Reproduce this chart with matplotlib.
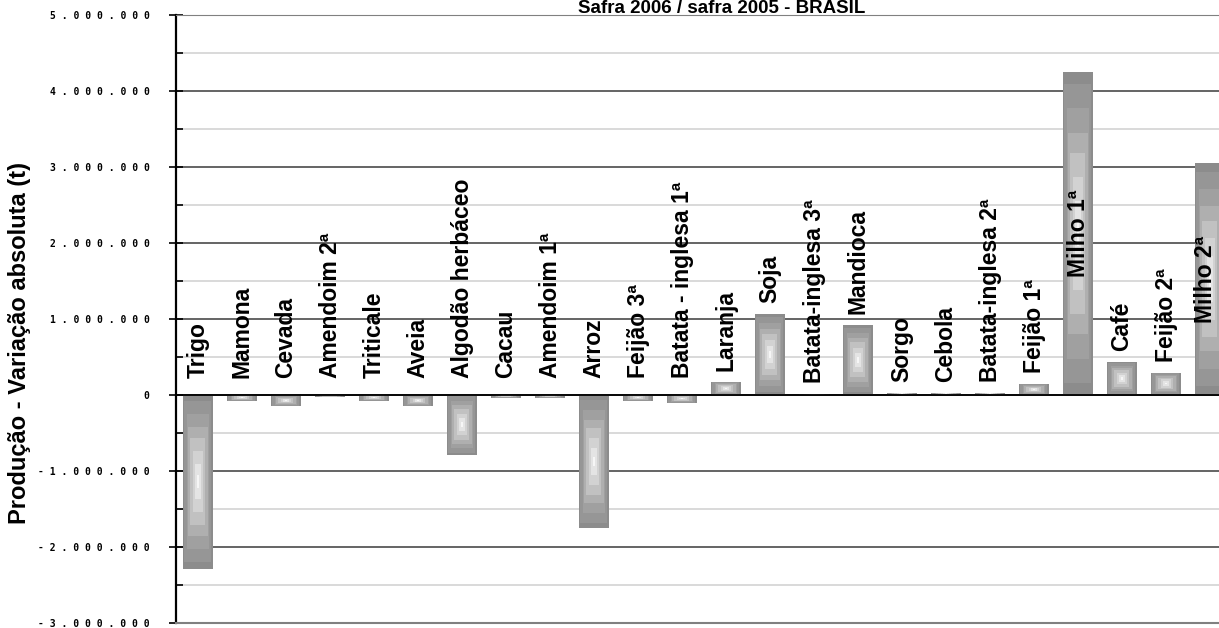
import numpy as np
import matplotlib
matplotlib.use('Agg')
import matplotlib.pyplot as plt
from matplotlib.colors import LinearSegmentedColormap
from matplotlib.ticker import MultipleLocator, FuncFormatter

# dados - variacao absoluta da producao (t), safra 2006 / safra 2005
culturas = ['Trigo', 'Mamona', 'Cevada', 'Amendoim 2ª', 'Triticale', 'Aveia',
            'Algodão herbáceo', 'Cacau', 'Amendoim 1ª', 'Arroz', 'Feijão 3ª',
            'Batata - inglesa 1ª', 'Laranja', 'Soja', 'Batata-inglesa 3ª',
            'Mandioca', 'Sorgo', 'Cebola', 'Batata-inglesa 2ª', 'Feijão 1ª',
            'Milho 1ª', 'Café', 'Feijão 2ª', 'Milho 2ª']
variacao = [-2290000, -80000, -140000, -20000, -80000, -140000,
            -790000, -40000, -40000, -1750000, -80000,
            -110000, 170000, 1060000, 10000,
            920000, 30000, 30000, 30000, 140000,
            4250000, 430000, 290000, 3050000]
y_ticks = [-3000000, -2000000, -1000000, 0, 1000000, 2000000, 3000000, 4000000, 5000000]

plt.rcParams['font.family'] = ['Liberation Sans', 'DejaVu Sans']

fig = plt.figure(figsize=(12.19, 6.28), dpi=100)
ax = fig.add_axes([176/1219, 5/628, 1043/1219, 608/628])

xs = np.arange(len(culturas))
bars = ax.bar(xs, variacao, width=0.68, color='none', edgecolor='none', zorder=2)

# gradiente "do centro" parecido com o do Excel
u = np.linspace(-1, 1, 40)
v = np.linspace(-1, 1, 80)
d = np.maximum(np.abs(u)[None, :], np.abs(v)[:, None])
d = np.round(d * 7) / 7
cmap = LinearSegmentedColormap.from_list('barra', ['#f6f6f6', '#cdcdcd', '#a4a4a4', '#8c8c8c'])
for p in bars:
    x0, y0 = p.get_xy()
    im = ax.imshow(d, cmap=cmap, vmin=0, vmax=1, aspect='auto', interpolation='nearest',
                   extent=[x0, x0 + p.get_width(), y0, y0 + p.get_height()], zorder=2)
    im.set_clip_path(p)

# rotulos das culturas
for i, (nome, val) in enumerate(zip(culturas, variacao)):
    dx = -3 if i == len(culturas) - 1 else 0   # o ultimo fica colado na borda
    if val > 2000000:
        ax.annotate(nome, (i, val / 2), xytext=(dx, 0), textcoords='offset points',
                    rotation=90, ha='center', va='center', fontsize=16.5,
                    fontweight='bold', zorder=4)
    else:
        off = 8 if val > 0 else 12
        ax.annotate(nome, (i, max(val, 0)), xytext=(dx, off), textcoords='offset points',
                    rotation=90, ha='center', va='bottom', fontsize=16.5,
                    fontweight='bold', zorder=4)

ax.set_xlim(-0.5, -0.5 + 1043/44)
ax.set_ylim(-3000000, 5000000)
ax.set_yticks(y_ticks)
ax.yaxis.set_minor_locator(MultipleLocator(500000))
ax.yaxis.set_major_formatter(FuncFormatter(
    lambda val, pos: ' '.join(f'{int(val):,}'.replace(',', '.'))))
ax.set_xticks([])

ax.grid(axis='y', which='major', color='#3a3a3a', linewidth=1.1, zorder=1)
ax.grid(axis='y', which='minor', color='#cfcfcf', linewidth=1.1, zorder=1)
ax.set_axisbelow(True)
ax.axhline(0, color='black', linewidth=1.3, zorder=3)

ax.tick_params(axis='y', which='major', direction='inout', length=10, width=1.2, pad=14)
ax.tick_params(axis='y', which='minor', direction='in', length=5, width=1.2)
for lab in ax.get_yticklabels():
    lab.set_family('DejaVu Sans Mono')
    lab.set_fontweight('bold')
    lab.set_fontsize(7)

ax.spines['right'].set_visible(False)
ax.spines['left'].set_linewidth(1.6)
ax.spines['left'].set_color('black')
ax.spines['top'].set_color('#808080')
ax.spines['bottom'].set_color('#808080')
ax.spines['bottom'].set_linewidth(1.5)

fig.text(20/1219, (628 - 343) / 628, 'Produção - Variação absoluta (t)',
         rotation=90, ha='center', va='center', fontsize=17, fontweight='bold')

fig.text(722/1219, 1 - 13/628, 'Safra 2006 / safra 2005 - BRASIL', ha='center',
         va='baseline', fontsize=13.5, fontweight='bold')

fig.savefig('out.png', dpi=100)
